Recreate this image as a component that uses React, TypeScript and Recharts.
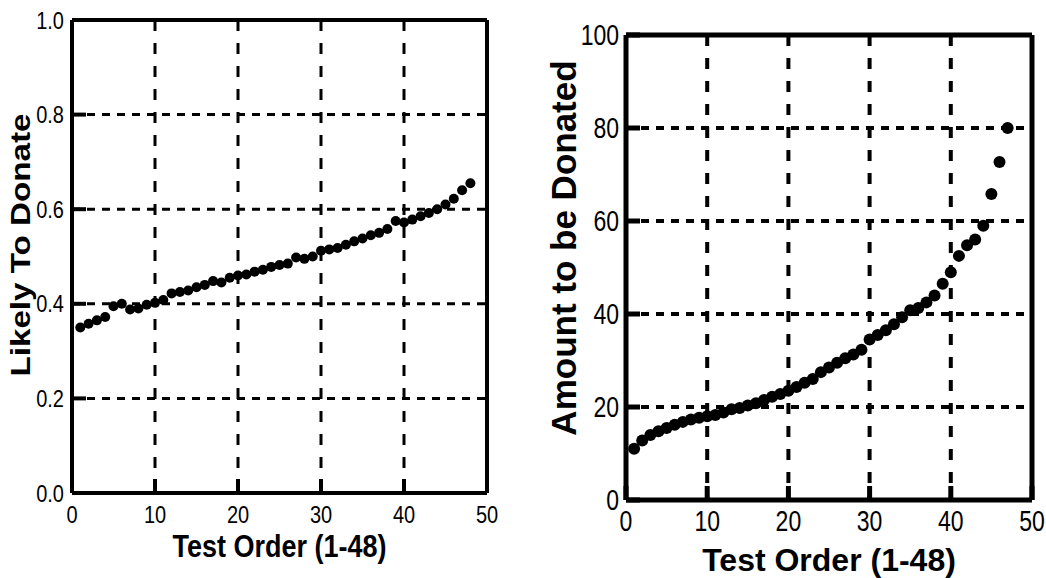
import React from 'react';
import { ScatterChart, Scatter, XAxis, YAxis, CartesianGrid } from 'recharts';

// test order of the 48 items
const testOrder = [
  1, 2, 3, 4, 5, 6, 7, 8, 9, 10, 11, 12, 13, 14, 15, 16, 17, 18, 19, 20, 21, 22, 23, 24,
  25, 26, 27, 28, 29, 30, 31, 32, 33, 34, 35, 36, 37, 38, 39, 40, 41, 42, 43, 44, 45, 46, 47, 48,
];

// left panel: likelihood to donate
const likelyToDonate = [
  0.350, 0.358, 0.365, 0.372, 0.395, 0.400, 0.388, 0.390, 0.398, 0.402, 0.408, 0.422,
  0.425, 0.428, 0.435, 0.440, 0.448, 0.445, 0.455, 0.460, 0.462, 0.468, 0.472, 0.478,
  0.482, 0.485, 0.498, 0.495, 0.500, 0.512, 0.515, 0.518, 0.525, 0.532, 0.538, 0.545,
  0.550, 0.558, 0.575, 0.572, 0.578, 0.585, 0.592, 0.600, 0.610, 0.622, 0.640, 0.655,
];

// right panel: amount to be donated
const amountDonated = [
  11.0, 12.8, 14.0, 14.8, 15.5, 16.2, 16.8, 17.3, 17.7, 18.0, 18.3, 18.8,
  19.5, 19.8, 20.3, 20.8, 21.5, 22.2, 22.8, 23.5, 24.3, 25.2, 26.0, 27.5,
  28.5, 29.5, 30.5, 31.3, 32.3, 34.5, 35.5, 36.5, 37.8, 39.3, 40.8, 41.3,
  42.5, 44.0, 46.5, 49.0, 52.5, 54.8, 56.0, 59.0, 65.8, 72.7, 80.0,
];

const xTicks = [0, 10, 20, 30, 40, 50];
const likelyTicks = [0, 0.2, 0.4, 0.6, 0.8, 1.0];
const amountTicks = [0, 20, 40, 60, 80, 100];

const likelyData = testOrder.map((x, i) => ({ x, y: likelyToDonate[i] }));
const amountData = amountDonated.map((y, i) => ({ x: testOrder[i], y }));

const FONT = '"Liberation Sans", Arial, Helvetica, sans-serif';
const TICK_LEN = 14;

// bottom axis: inward tick mark + label below
const makeXTick = (size: number, stretch: number, gap: number, bw: number) => (props: any) => {
  const { x, y, payload } = props;
  const axisY = y - gap;
  return (
    <g>
      <line x1={x} x2={x} y1={axisY} y2={axisY - TICK_LEN} stroke="#000" strokeWidth={bw} />
      <text
        transform={`translate(${x},${y}) scale(1,${stretch})`}
        textAnchor="middle"
        dy="0.72em"
        fontSize={size}
        fontFamily={FONT}
        fill="#000"
      >
        {payload.value}
      </text>
    </g>
  );
};

// left axis: inward tick mark + label to the left
const makeYTick = (size: number, stretch: number, gap: number, bw: number, fmt: (v: number) => string) => (props: any) => {
  const { x, y, payload } = props;
  const axisX = x + gap;
  return (
    <g>
      <line x1={axisX} x2={axisX + TICK_LEN} y1={y} y2={y} stroke="#000" strokeWidth={bw} />
      <text
        transform={`translate(${x},${y}) scale(1,${stretch})`}
        textAnchor="end"
        dy="0.36em"
        fontSize={size}
        fontFamily={FONT}
        fill="#000"
      >
        {fmt(payload.value)}
      </text>
    </g>
  );
};

// top axis: inward tick mark only
const makeTopTick = (bw: number) => (props: any) => (
  <line x1={props.x} x2={props.x} y1={props.y} y2={props.y + TICK_LEN} stroke="#000" strokeWidth={bw} />
);

// right axis: inward tick mark only
const makeRightTick = (bw: number) => (props: any) => (
  <line x1={props.x} x2={props.x - TICK_LEN} y1={props.y} y2={props.y} stroke="#000" strokeWidth={bw} />
);

const xTitle = (text: string, size: number, stretch: number, down: number) => (props: any) => {
  const vb = props.viewBox;
  const cx = vb.x + vb.width / 2;
  const by = vb.y + down;
  return (
    <text
      transform={`translate(${cx},${by}) scale(1,${stretch})`}
      textAnchor="middle"
      fontSize={size}
      fontWeight="bold"
      fontFamily={FONT}
      fill="#000"
    >
      {text}
    </text>
  );
};

const yTitle = (text: string, size: number, stretch: number, dx: number, shift: number) => (props: any) => {
  const vb = props.viewBox;
  const bx = vb.x + dx;
  const cy = vb.y + vb.height / 2 + shift;
  return (
    <text
      transform={`translate(${bx},${cy}) rotate(-90) scale(${stretch},1)`}
      textAnchor="middle"
      fontSize={size}
      fontWeight="bold"
      fontFamily={FONT}
      fill="#000"
    >
      {text}
    </text>
  );
};

const dot = (r: number) => (props: any) => <circle cx={props.cx} cy={props.cy} r={r} fill="#000" />;

type PanelProps = {
  data: { x: number; y: number }[];
  width: number;
  margin: { top: number; right: number; bottom: number; left: number };
  yDomain: [number, number];
  yTicks: number[];
  yFmt: (v: number) => string;
  yWidth: number;
  border: number;
  gridWidth: number;
  tickFont: number;
  tickStretch: number;
  xMargin: number;
  yMargin: number;
  dotR: number;
  xLabel: any;
  yLabel: any;
};

const Panel = (p: PanelProps) => {
  const line = { stroke: '#000', strokeWidth: p.border };
  return (
    <ScatterChart width={p.width} height={578} margin={p.margin}>
      <CartesianGrid
        horizontal
        vertical={false}
        stroke="#000"
        strokeWidth={p.gridWidth}
        strokeDasharray="8 7"
      />
      <CartesianGrid
        horizontal={false}
        vertical
        stroke="#000"
        strokeWidth={p.gridWidth}
        strokeDasharray="11 12"
      />
      <XAxis
        dataKey="x"
        type="number"
        domain={[0, 50]}
        ticks={xTicks}
        height={60}
        tickSize={0}
        tickMargin={p.xMargin}
        axisLine={line}
        tickLine={false}
        tick={makeXTick(p.tickFont, p.tickStretch, p.xMargin, p.border)}
        label={p.xLabel}
      />
      <XAxis
        xAxisId="top"
        orientation="top"
        type="number"
        domain={[0, 50]}
        ticks={xTicks}
        height={1}
        tickSize={0}
        tickMargin={0}
        axisLine={line}
        tickLine={false}
        tick={makeTopTick(p.border)}
      />
      <YAxis
        dataKey="y"
        type="number"
        domain={p.yDomain}
        ticks={p.yTicks}
        width={p.yWidth}
        tickSize={0}
        tickMargin={p.yMargin}
        axisLine={line}
        tickLine={false}
        tick={makeYTick(p.tickFont, p.tickStretch, p.yMargin, p.border, p.yFmt)}
        label={p.yLabel}
      />
      <YAxis
        yAxisId="right"
        orientation="right"
        type="number"
        domain={p.yDomain}
        ticks={p.yTicks}
        width={1}
        tickSize={0}
        tickMargin={0}
        axisLine={line}
        tickLine={false}
        tick={makeRightTick(p.border)}
      />
      <Scatter data={p.data} fill="#000" shape={dot(p.dotR)} isAnimationActive={false} />
    </ScatterChart>
  );
};

export default function App() {
  return (
    <div style={{ position: 'absolute', left: 0, top: 0, width: 1046, height: 578, background: '#fff' }}>
      <div style={{ position: 'absolute', left: 0, top: 0 }}>
        <Panel
          data={likelyData}
          width={520}
          margin={{ top: 19, right: 32, bottom: 25, left: 10 }}
          yDomain={[0, 1]}
          yTicks={likelyTicks}
          yFmt={(v) => v.toFixed(1)}
          yWidth={62}
          border={4}
          gridWidth={3}
          tickFont={20}
          tickStretch={1.2}
          xMargin={13}
          yMargin={8}
          dotR={5}
          xLabel={xTitle('Test Order (1-48)', 27, 1.15, 64)}
          yLabel={yTitle('Likely To Donate', 27, 1.23, 20, -11.5)}
        />
      </div>
      <div style={{ position: 'absolute', left: 520, top: 0 }}>
        <Panel
          data={amountData}
          width={526}
          margin={{ top: 34, right: 13, bottom: 18, left: 26 }}
          yDomain={[0, 100]}
          yTicks={amountTicks}
          yFmt={(v) => String(v)}
          yWidth={80}
          border={5}
          gridWidth={4}
          tickFont={23}
          tickStretch={1.25}
          xMargin={10}
          yMargin={7}
          dotR={6}
          xLabel={xTitle('Test Order (1-48)', 32, 1.0, 71)}
          yLabel={yTitle('Amount to be Donated', 35, 1.0, 30, -19.5)}
        />
      </div>
    </div>
  );
}
